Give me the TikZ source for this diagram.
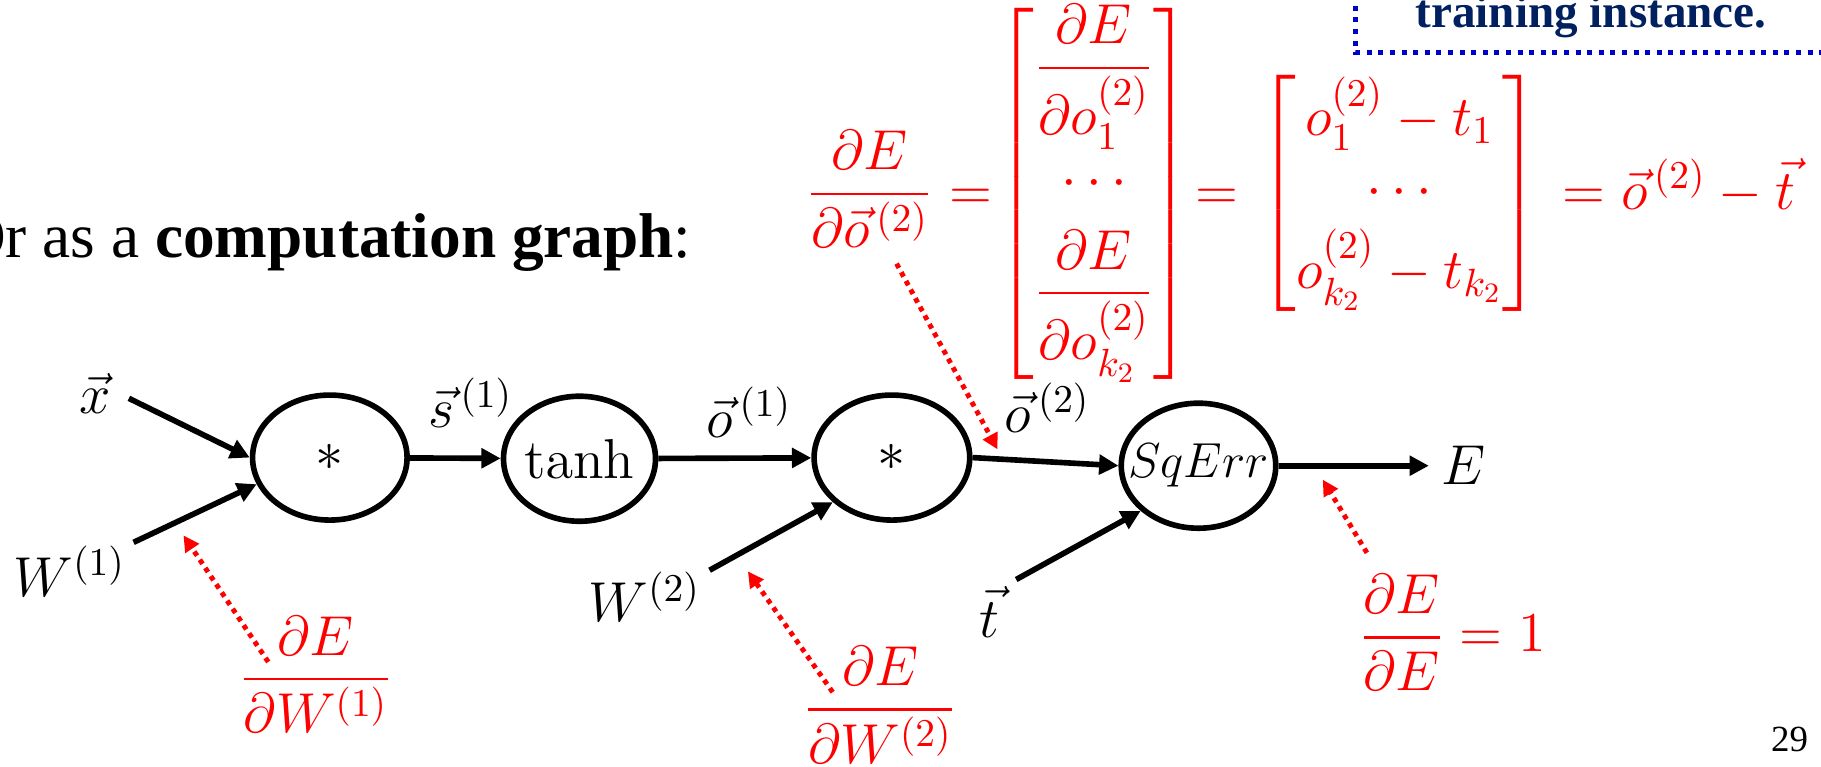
\RequirePackage{fix-cm}
\documentclass[tikz,border=0pt]{standalone}
\usepackage{amsmath,amssymb}
\usepackage[no-math]{fontspec}
\setmainfont{Liberation Serif}
\usepackage{tikz}
\usetikzlibrary{positioning,arrows.meta,shapes.geometric}
\usepackage{xcolor}
\definecolor{navy}{RGB}{0,32,96}
\definecolor{dotblue}{RGB}{0,0,204}
\newcommand{\mfont}{\fontsize{16}{19}\selectfont}

\begin{document}
\begin{tikzpicture}[x=0.011614cm,y=-0.011614cm,
  >={Triangle[length=5.5pt,width=5.5pt]},
  every node/.style={font=\mfont},
  opnode/.style={draw,ellipse,line width=1.6pt,inner sep=0pt,minimum height=1.25cm},
  flow/.style={->,line width=1.6pt},
  grad/.style={-{Triangle[length=4.5pt,width=4.5pt]},red,line width=1.4pt,dash pattern=on 1.4pt off 1.4pt},
  eqn/.style={red,anchor=base}]
\useasboundingbox (0,0) rectangle (1568,660);

% heading and note box
\node[anchor=base east,font=\fontsize{18}{22}\selectfont] (hdr) at (606,222) {Or as a \textbf{computation graph}:};
\draw[dotblue,line width=1.4pt,dash pattern=on 1.4pt off 1.9pt] (1167,-5) |- (1575,45);
\node[anchor=base,navy,font=\fontsize{13.4}{16}\selectfont\bfseries] (note) at (1370,24) {training instance.};

% operations
\node[opnode,minimum width=1.545cm] (m1) at (284,394) {\raisebox{-2pt}{$*$}};
\node[opnode,minimum width=1.52cm] (th) at (499,395) {\makebox[0pt]{$\tanh$}};
\node[opnode,minimum width=1.556cm] (m2) at (768,394) {\raisebox{-2pt}{$*$}};
\node[opnode,minimum width=1.545cm,font=\fontsize{14}{17}\selectfont] (sq) at (1032,401) {\makebox[0pt]{$SqErr$}};

% values
\node (xin) at (82,339) {$\vec{x}$};
\node (w1) at (60,492) {$W^{(1)}$};
\node (s1) at (405,347) {$\vec{s}^{\,(1)}$};
\node (o1) at (645,355) {$\vec{o}^{\,(1)}$};
\node (w2) at (555,514) {$W^{(2)}$};
\node (o2) at (902,351) {$\vec{o}^{\,(2)}$};
\node (tv) at (852,527) {$\vec{t}$};
\node (E) at (1260,401) {$E$};

\coordinate (xt) at (111,343);
\coordinate (w1t) at (115,467);
\coordinate (w2t) at (611,491);
\coordinate (tt) at (875,499);

\draw[flow] (xt) -- (m1.180);
\draw[flow] (w1t) -- (m1.200);
\draw[flow] (m1) -- (th);
\draw[flow] (th) -- (m2);
\draw[flow] (w2t) -- (m2.217);
\draw[flow] (m2.east) -- (sq.west);
\draw[flow] (tt) -- (sq.218);
\draw[flow] (sq.east) -- (E);

% gradients
\node[eqn] (lhs) at (749,179) {$\dfrac{\partial E}{\partial\vec{o}^{\,(2)}}$};
\node[eqn] (eq1) at (836,180) {$=$};
\node[eqn] (mat1) at (942,179) {$\left[\begin{matrix}\dfrac{\partial E}{\partial o_1^{(2)}}\\[4pt]\cdots\\[4pt]\dfrac{\partial E}{\partial o_{k_2}^{(2)}}\end{matrix}\right]$};
\node[eqn] (eq2) at (1048,180) {$=$};
\node[eqn] (mat2) at (1205,179) {$\left[\begin{matrix}o_1^{(2)}-t_1\\[1pt]\cdots\\[1pt]o_{k_2}^{(2)}-t_{k_2}\end{matrix}\right]$};
\node[eqn,anchor=base west,inner sep=0pt] (rhs) at (1345,180) {$=\vec{o}^{\,(2)}-\vec{t}$};

\node[eqn] (fw1) at (272,597) {$\dfrac{\partial E}{\partial W^{(1)}}$};
\node[eqn] (fw2) at (758,623) {$\dfrac{\partial E}{\partial W^{(2)}}$};
\node[eqn,anchor=base west,inner sep=0pt] (fe) at (1170,561) {$\dfrac{\partial E}{\partial E}=1$};

\coordinate (g1a) at (231,570);
\coordinate (g1b) at (158,461);
\coordinate (g2a) at (717,596);
\coordinate (g2b) at (644,492);
\coordinate (g3a) at (772,227);
\coordinate (g3b) at (859,387);
\coordinate (g4a) at (1177,476);
\coordinate (g4b) at (1139,413);
\draw[grad] (g1a) -- (g1b);
\draw[grad] (g2a) -- (g2b);
\draw[grad] (g3a) -- (g3b);
\draw[grad] (g4a) -- (g4b);

\node[anchor=base,font=\fontsize{10.5}{12}\selectfont] (pg) at (1541,647) {29};
\end{tikzpicture}
\end{document}
